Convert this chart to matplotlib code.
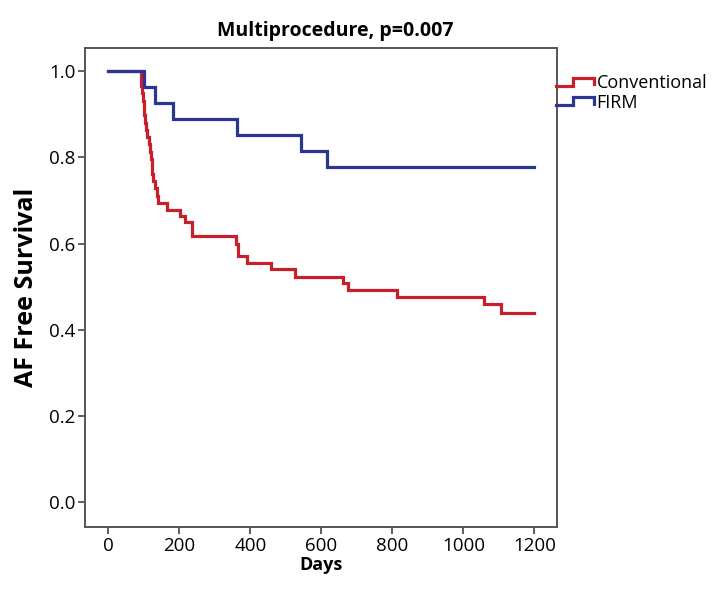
import matplotlib
matplotlib.use("Agg")
from matplotlib import pyplot as plt
from matplotlib.legend_handler import HandlerBase
from matplotlib.lines import Line2D

# Kaplan-Meier steps (day, survival after the drop)
conv_days = [0, 91, 93, 95, 97, 99, 101, 103, 107, 110, 113, 117, 120, 122, 124, 127, 131, 137, 141,
             165, 203, 216, 235, 360, 366, 391, 458, 525, 661, 675, 812, 1059, 1106, 1200]
conv_surv = [1.0, 0.983, 0.966, 0.949, 0.932, 0.915, 0.898, 0.881, 0.864, 0.847, 0.830, 0.813, 0.796,
             0.779, 0.762, 0.745, 0.728, 0.711, 0.695,
             0.679, 0.665, 0.649, 0.618, 0.600, 0.571, 0.556, 0.540, 0.523, 0.509, 0.493, 0.477,
             0.459, 0.439, 0.439]

firm_days = [0, 99, 132, 181, 362, 544, 615, 1200]
firm_surv = [1.0, 0.963, 0.926, 0.889, 0.852, 0.815, 0.778, 0.778]

group_names = ["Conventional", "FIRM"]
group_colors = ["#C8202A", "#2B3594"]

x_ticks = [0, 200, 400, 600, 800, 1000, 1200]
y_ticks = [0.0, 0.2, 0.4, 0.6, 0.8, 1.0]

plt.rcParams["font.family"] = ["Open Sans", "DejaVu Sans"]


class StepHandler(HandlerBase):
    """Legend glyph drawn as a little step, like SPSS does it"""

    def create_artists(self, legend, orig_handle, xdescent, ydescent, width, height, fontsize, trans):
        xs = [0.0, 0.45, 0.45, 1.0, 1.0]
        ys = [0.15, 0.15, 0.85, 0.85, 0.3]
        line = Line2D([x * width - xdescent for x in xs],
                      [y * height - ydescent for y in ys],
                      color=orig_handle.get_color(), lw=orig_handle.get_linewidth(),
                      solid_joinstyle="miter", transform=trans)
        return [line]


fig = plt.figure(figsize=(7.2, 5.92), dpi=100)
ax = fig.add_axes([85 / 720, 1 - 527 / 592, (557 - 85) / 720, (527 - 48) / 592])

handles = []
for days, surv, name, col in zip([conv_days, firm_days], [conv_surv, firm_surv], group_names, group_colors):
    h, = ax.step(days, surv, where="post", color=col, lw=2.3, label=name, solid_joinstyle="miter")
    handles.append(h)

ax.set_xlim(-66, 1264)
ax.set_ylim(-0.058, 1.054)
ax.set_xticks(x_ticks)
ax.set_yticks(y_ticks)
ax.set_yticklabels(["%.1f" % v for v in y_ticks])
ax.tick_params(direction="out", length=5, width=1.2, color="#444444", labelsize=13.5, pad=2)
for s in ax.spines.values():
    s.set_color("#555555")
    s.set_linewidth(1.4)

ax.set_xlabel("Days", fontsize=13, fontweight="bold", labelpad=1)
ax.set_ylabel("AF Free Survival", fontsize=18, fontweight="bold", labelpad=7)
fig.text(335 / 720, 1 - 31 / 592, "Multiprocedure, p=0.007", ha="center", va="center",
         fontsize=14, fontweight="bold")

fig.legend(handles=handles, labels=group_names, loc="upper left",
           bbox_to_anchor=(556 / 720, 1 - 74 / 592), frameon=False,
           handler_map={Line2D: StepHandler()}, handlelength=2.1, handleheight=0.6,
           handletextpad=0.15, borderpad=0, borderaxespad=0, labelspacing=0.1, fontsize=13)

fig.savefig("out.png", dpi=100)
